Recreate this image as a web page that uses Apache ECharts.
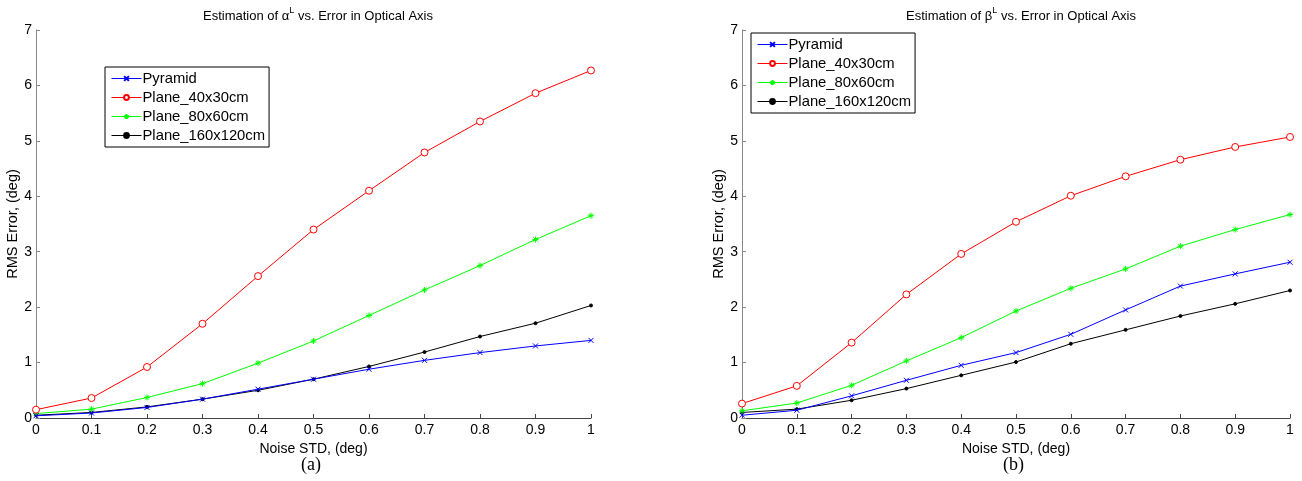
<!DOCTYPE html>
<html>
<head>
<meta charset="utf-8">
<script src="https://cdn.jsdelivr.net/npm/echarts@6/dist/echarts.min.js"></script>
<style>
html,body{margin:0;padding:0;background:#fff;}
#c{width:1302px;height:481px;}
</style>
</head>
<body>
<div id="c"></div>
<script>
// Noise STD values (x)
const noiseStd = [0, 0.1, 0.2, 0.3, 0.4, 0.5, 0.6, 0.7, 0.8, 0.9, 1.0];
const seriesNames = ['Pyramid', 'Plane_40x30cm', 'Plane_80x60cm', 'Plane_160x120cm'];

// (a) alpha^L
const alphaPyramid   = [0.04, 0.09, 0.19, 0.34, 0.52, 0.70, 0.88, 1.04, 1.18, 1.30, 1.40];
const alphaPlane40   = [0.15, 0.36, 0.92, 1.70, 2.56, 3.40, 4.10, 4.79, 5.35, 5.86, 6.27];
const alphaPlane80   = [0.08, 0.16, 0.37, 0.62, 0.99, 1.39, 1.85, 2.31, 2.75, 3.22, 3.65];
const alphaPlane160  = [0.05, 0.10, 0.20, 0.34, 0.50, 0.70, 0.93, 1.19, 1.47, 1.71, 2.03];

// (b) beta^L
const betaPyramid    = [0.05, 0.14, 0.40, 0.68, 0.95, 1.18, 1.51, 1.95, 2.38, 2.60, 2.81];
const betaPlane40    = [0.26, 0.58, 1.36, 2.23, 2.96, 3.54, 4.01, 4.36, 4.66, 4.89, 5.07];
const betaPlane80    = [0.13, 0.27, 0.59, 1.03, 1.45, 1.93, 2.34, 2.69, 3.10, 3.40, 3.67];
const betaPlane160   = [0.10, 0.16, 0.32, 0.53, 0.77, 1.01, 1.34, 1.59, 1.84, 2.06, 2.30];

const yTicks = [0, 1, 2, 3, 4, 5, 6, 7];

const FONT = '"Liberation Sans", Arial, sans-serif';
const colors = ['#0000ff', '#ff0000', '#00ff00', '#000000'];
const symbols = [
  'path://M0,0L10,10M10,0L0,10',
  'circle',
  'path://M5,0L5,10M0,5L10,5M1.5,1.5L8.5,8.5M8.5,1.5L1.5,8.5',
  'circle'
];
const symbolSizes = [5, 7, 6, 3];

function pairs(vals) { return noiseStd.map((x, i) => [x, vals[i]]); }

function makeSeries(dataSets, gi) {
  return dataSets.map((vals, i) => ({
    name: seriesNames[i],
    type: 'line',
    xAxisIndex: gi, yAxisIndex: gi,
    data: pairs(vals),
    symbol: symbols[i],
    symbolSize: symbolSizes[i],
    showAllSymbol: true,
    lineStyle: { color: colors[i], width: 1 },
    itemStyle: { color: i === 1 ? '#ffffff' : colors[i], borderColor: colors[i], borderWidth: 1 },
    emphasis: { disabled: true },
    animation: false,
    z: 10 - i
  }));
}

const grids = [
  { left: 36, right: 711, top: 30, bottom: 63 },
  { left: 742, right: 12, top: 30, bottom: 63 }
];

function xAx(gi) {
  return {
    type: 'value', gridIndex: gi, min: 0, max: 1, interval: 0.1,
    name: 'Noise STD, (deg)', nameLocation: 'middle', nameGap: 21,
    nameTextStyle: { fontFamily: FONT, fontSize: 14, color: '#000' },
    axisLine: { show: true, lineStyle: { color: '#444', width: 1 } },
    axisTick: { show: true, inside: true, length: 4, lineStyle: { color: '#444' } },
    axisLabel: { fontFamily: FONT, fontSize: 14, color: '#000', margin: 5,
      formatter: v => String(Math.round(v * 10) / 10) },
    splitLine: { show: false }
  };
}
function yAx(gi) {
  return {
    type: 'value', gridIndex: gi, min: yTicks[0], max: yTicks[yTicks.length - 1], interval: 1,
    name: 'RMS Error, (deg)', nameLocation: 'middle', nameGap: 14,
    nameTextStyle: { fontFamily: FONT, fontSize: 14.5, color: '#000' },
    axisLine: { show: true, lineStyle: { color: '#888', width: 1 } },
    axisTick: { show: true, inside: true, length: 4, lineStyle: { color: '#888' } },
    axisLabel: { fontFamily: FONT, fontSize: 14, color: '#000', margin: 4 },
    splitLine: { show: false }
  };
}

function legend(left, top) {
  return {
    data: seriesNames,
    orient: 'vertical', left: left, top: top,
    itemWidth: 30, itemHeight: 6, itemGap: 2,
    padding: [3, 4, 3, 6],
    borderColor: '#000', borderWidth: 1, backgroundColor: '#fff',
    lineStyle: { width: 1 },
    textStyle: { fontFamily: FONT, fontSize: 14.8, lineHeight: 17, color: '#000', padding: [0, 0, 0, -4] },
    selectedMode: false
  };
}

const titleRich = {
  n: { fontFamily: FONT, fontSize: 13, fontWeight: 'normal', color: '#000' },
  g: { fontFamily: FONT, fontSize: 13, fontWeight: 'normal', color: '#000' },
  s: { fontFamily: FONT, fontSize: 9, fontWeight: 'normal', color: '#000', padding: [0, 0, 11, 0] }
};

const chart = echarts.init(document.getElementById('c'), null, { renderer: 'canvas' });
const allSeries = makeSeries([alphaPyramid, alphaPlane40, alphaPlane80, alphaPlane160], 0)
  .concat(makeSeries([betaPyramid, betaPlane40, betaPlane80, betaPlane160], 1));

chart.setOption({
  animation: false,
  backgroundColor: '#fff',
  title: [
    { text: '{n|Estimation of }{g|α}{s|L}{n| vs. Error in Optical Axis}', left: 313, top: 1,
      textAlign: 'center', textStyle: { fontWeight: 'normal', rich: titleRich } },
    { text: '{n|Estimation of }{g|β}{s|L}{n| vs. Error in Optical Axis}', left: 1016, top: 1,
      textAlign: 'center', textStyle: { fontWeight: 'normal', rich: titleRich } }
  ],
  grid: grids,
  xAxis: [xAx(0), xAx(1)],
  yAxis: [yAx(0), yAx(1)],
  legend: [legend(105, 67), legend(751, 33)],
  series: allSeries,
  graphic: [
    { type: 'text', left: 301, top: 456, style: { text: '(a)', font: '18px "Liberation Serif", "Times New Roman", serif', fill: '#000' } },
    { type: 'text', left: 1003, top: 456, style: { text: '(b)', font: '18px "Liberation Serif", "Times New Roman", serif', fill: '#000' } }
  ]
});
</script>
</body>
</html>
